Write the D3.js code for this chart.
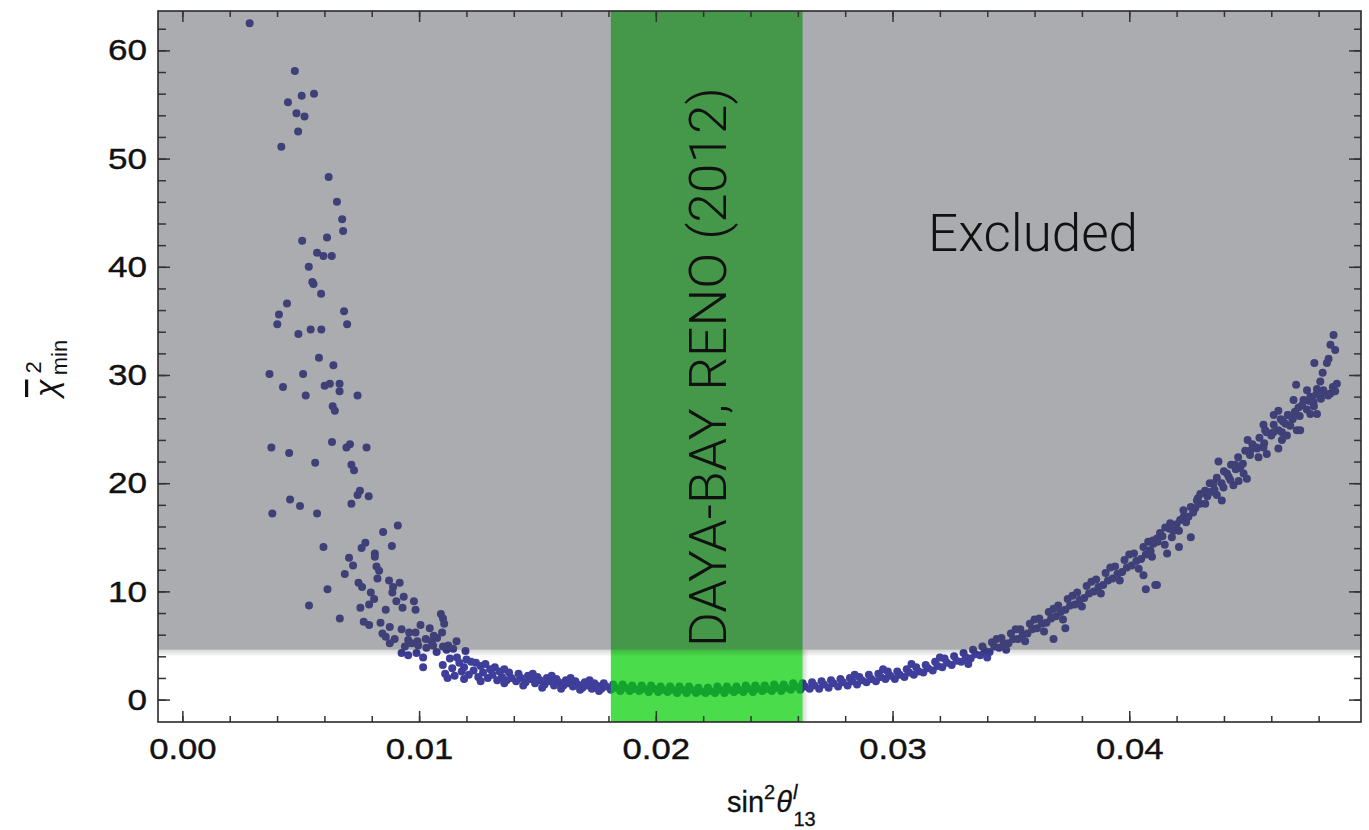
<!DOCTYPE html>
<html>
<head>
<meta charset="utf-8">
<script src="https://cdn.jsdelivr.net/npm/d3@7"></script>
<style>
	body { margin: 0; background: #fff; }
	svg { display: block; }
	text { font-family: 'Liberation Sans', Arial, sans-serif; }
</style>
</head>
<body>
<svg id="chart"></svg>
<script>
// axis ranges and tick labels
const xDomain = [-0.00103, 0.04979];
const yDomain = [-2.07, 63.64];
const xMajorTicks = [0, 0.01, 0.02, 0.03, 0.04];
const yMajorTicks = [0, 10, 20, 30, 40, 50, 60];

// shaded regions
const excludedAbove = 4.61;
const expBand = [0.0181, 0.0262];
const regionLabel = 'Excluded';
const bandLabel = 'DAYA-BAY, RENO (2012)';

// scattered points, small sin^2 (upper left)
const sparsePoints = [
	[0.00284,62.5],[0.00475,58.1],[0.00556,56.0],[0.00504,55.8],[0.00446,55.2],[0.00482,54.2],[0.00516,53.9],
	[0.00489,52.5],[0.00418,51.1],[0.00618,48.3],[0.00653,46.0],[0.00675,44.4],[0.00679,43.3],[0.00506,42.4],
	[0.00611,42.7],[0.00569,41.3],[0.00596,41.0],[0.00631,41.0],[0.00534,40.0],[0.00549,38.6],[0.00554,38.4],
	[0.00586,37.5],[0.00442,36.6],[0.00408,35.6],[0.00401,34.7],[0.00683,35.9],[0.00696,34.7],[0.00490,33.8],
	[0.00542,34.2],[0.00587,34.2],[0.00577,31.6],[0.00638,30.9],[0.00368,30.1],[0.00510,30.1],[0.00425,28.9],
	[0.00601,29.0],[0.00623,29.2],[0.00664,29.2],[0.00664,28.5],[0.00521,28.1],[0.00740,28.1],[0.00635,27.1],
	[0.00644,26.7],[0.00376,23.3],[0.00451,22.8],[0.00561,21.9],[0.00632,23.8],[0.00693,23.3],[0.00708,23.6],
	[0.00778,23.3],[0.00714,21.7],[0.00725,21.2],
	[0.00380,17.2],[0.00455,18.5],[0.00497,17.9],[0.00569,17.2],[0.00714,18.1],[0.00740,18.9],[0.00750,19.3],
	[0.00787,18.8],[0.00910,16.1],[0.00848,15.5],[0.00885,14.2],[0.00596,14.1],[0.00757,14.0],[0.00773,14.5],
	[0.00813,13.5],[0.00813,13.2],[0.00704,13.1],[0.00721,12.4],[0.00820,12.3],[0.00831,11.9],[0.00686,11.6],
	[0.00824,11.2],[0.00873,11.0],[0.00918,10.8],[0.00744,10.8],[0.00759,10.4],[0.00890,10.4],[0.00887,9.9],
	[0.00613,10.2],[0.00796,9.9],[0.00810,9.3],[0.00789,8.8],[0.00935,9.5],[0.00978,9.1],[0.00904,9.1],
	[0.00930,8.5],[0.00985,8.3],[0.00535,8.7],[0.00752,8.5],[0.00859,8.3],[0.00665,7.5],[0.01092,7.9],
	[0.01101,7.5],[0.01106,7.0],[0.00766,7.2],[0.00789,6.9],[0.00837,7.1],[0.01006,6.9],[0.01045,6.6],
	[0.00845,6.1],[0.00876,6.7],[0.00859,5.8],[0.00897,5.6],[0.00876,5.2],[0.00926,6.5],[0.00958,6.2],
	[0.00985,6.2],[0.00954,5.5],[0.00993,5.4],[0.01028,5.6],[0.01052,5.4],[0.01062,5.9],[0.01097,6.2],
	[0.01076,5.7],[0.00940,4.9],[0.00968,5.2],[0.00996,5.0],[0.01031,4.8],[0.01059,5.0],[0.01101,4.9],
	[0.01123,5.0],[0.01158,5.4],[0.01196,4.5],[0.00926,4.3],[0.00954,4.1],[0.00989,4.3],[0.01017,3.9],
	[0.01074,4.4],[0.01116,4.6],[0.01144,4.7],[0.01017,3.0]
];

// dense band along the minimum
const bandPoints = [
	[0.0110,3.2],[0.0111,2.4],[0.0113,3.8],[0.0114,2.9],[0.0115,2.2],[0.0116,3.9],[0.0117,3.4],[0.0118,2.6],
	[0.0119,3.0],[0.0120,3.7],[0.0121,2.3],[0.0122,3.5],[0.0123,2.7],[0.0124,3.4],[0.0125,2.1],[0.0126,3.1],
	[0.0127,2.5],[0.0128,3.3],[0.0129,2.0],[0.0130,2.8],[0.0131,2.3],[0.0132,3.0],[0.0133,1.8],[0.0134,2.6],
	[0.0135,2.1],[0.0137,1.8],[0.0138,2.5],[0.0139,2.0],
	[0.0141,1.7],[0.0142,2.4],[0.0143,2.0],[0.0145,1.6],[0.0146,2.2],[0.0147,1.9],[0.0149,1.5],[0.0150,2.1],
	[0.0151,1.8],[0.0153,1.4],[0.0154,2.0],[0.0155,1.7],[0.0157,1.3],[0.0158,1.9],[0.0159,1.6],[0.0161,1.3],
	[0.0162,1.8],[0.0163,1.5],[0.0165,1.2],[0.0166,1.7],[0.0167,1.4],[0.0169,1.1],[0.0170,1.6],[0.0171,1.3],
	[0.0173,1.0],[0.0174,1.5],[0.0175,1.3],[0.0177,1.0],[0.0178,1.5],[0.0179,1.2],
	[0.0181,0.9],[0.0182,1.4],[0.0183,1.1],[0.0185,0.8],[0.0186,1.4],[0.0187,1.1],[0.0189,0.8],[0.0190,1.3],
	[0.0191,1.0],[0.0193,0.8],[0.0194,1.3],[0.0195,1.0],[0.0197,0.7],[0.0198,1.3],[0.0199,1.0],[0.0201,0.7],
	[0.0202,1.2],[0.0203,0.9],[0.0205,0.7],[0.0206,1.2],[0.0207,0.9],[0.0209,0.6],[0.0210,1.2],[0.0211,0.9],
	[0.0213,0.6],[0.0214,1.2],[0.0215,0.9],[0.0217,0.6],[0.0218,1.1],[0.0219,0.8],[0.0221,0.6],[0.0222,1.1],
	[0.0223,0.8],[0.0225,0.6],[0.0226,1.2],[0.0227,0.9],[0.0229,0.6],[0.0230,1.2],[0.0231,0.9],[0.0233,0.7],
	[0.0234,1.2],[0.0235,0.9],[0.0237,0.7],[0.0238,1.3],[0.0239,1.0],[0.0241,0.7],[0.0242,1.3],[0.0243,1.0],
	[0.0245,0.8],[0.0246,1.3],[0.0247,1.0],[0.0249,0.8],[0.0250,1.4],[0.0251,1.1],[0.0253,0.8],[0.0254,1.4],
	[0.0255,1.1],[0.0257,0.9],[0.0258,1.5],[0.0259,1.2],
	[0.0261,0.9],[0.0262,1.5],[0.0263,1.2],[0.0265,1.0],[0.0266,1.6],[0.0267,1.3],[0.0269,1.0],[0.0270,1.7],
	[0.0271,1.4],[0.0273,1.1],[0.0274,1.8],[0.0275,1.5],[0.0277,1.2],[0.0278,1.9],[0.0279,1.6],[0.0281,1.3],
	[0.0282,2.0],[0.0283,1.7],[0.0285,1.4],[0.0286,2.1],[0.0287,1.8],[0.0289,1.6],[0.0290,2.3],[0.0291,1.9],
	[0.0293,1.7],[0.0294,2.4],[0.0295,2.1],[0.0297,1.9],[0.0298,2.6],[0.0299,2.2],
	[0.0301,1.9],[0.0302,2.6],[0.0303,2.3],[0.0305,2.1],[0.0306,2.8],[0.0307,2.5],[0.0309,2.3],[0.0310,3.0],
	[0.0311,2.6],[0.0313,2.5],[0.0314,3.2],[0.0315,2.9],[0.0317,2.7],[0.0318,3.5],[0.0319,3.1],[0.0321,3.0],
	[0.0322,3.8],[0.0323,3.4],[0.0325,3.2],[0.0326,4.0],[0.0327,3.6],[0.0329,3.5],[0.0330,4.3],[0.0331,3.9],
	[0.0333,3.8],[0.0334,4.6],[0.0335,4.2],[0.0337,4.1],[0.0338,4.9],[0.0339,4.5],
	[0.0341,4.4],[0.0342,5.3],[0.0343,4.9],[0.0345,4.8],[0.0346,5.7],[0.0347,5.2],[0.0349,5.2],[0.0350,6.1],
	[0.0351,5.6],[0.0353,5.6],[0.0354,6.5],[0.0355,6.0],[0.0357,6.1],[0.0358,7.0],[0.0359,6.5],[0.0361,6.6],
	[0.0362,7.5],[0.0363,7.0],[0.0365,7.1],[0.0366,8.1],[0.0367,7.5],[0.0369,7.7],[0.0370,8.7],[0.0371,8.1],
	[0.0373,8.3],[0.0374,9.3],[0.0375,8.7],[0.0377,8.8],[0.0378,9.9],[0.0379,9.2],
	[0.0381,9.4],[0.0382,10.5],[0.0383,9.8],[0.0385,10.0],[0.0386,11.1],[0.0387,10.4],[0.0389,10.6],[0.0390,11.7],
	[0.0391,11.0],[0.0393,11.2],[0.0394,12.3],[0.0395,11.6],[0.0397,11.8],[0.0398,12.9],[0.0399,12.2],[0.0401,12.4],
	[0.0402,13.5],[0.0403,12.8],[0.0405,13.0],[0.0406,14.1],[0.0407,13.4],[0.0409,13.7],[0.0410,14.7]
];

// extra points on the upper and lower edges of the band
const bandEdgePoints = [
	[0.0112,2.0],[0.0119,1.9],[0.0126,1.7],[0.0136,1.5],[0.0144,1.3],[0.0152,1.1],[0.0160,1.0],[0.0168,0.9],
	[0.0176,0.8],[0.0136,2.8],[0.0148,2.4],[0.0156,2.2],[0.0164,2.0],[0.0172,1.8],[0.0284,2.3],[0.0296,2.8],
	[0.0308,3.3],[0.0320,3.9],[0.0332,3.3],[0.0340,3.9],[0.0348,4.6],[0.0356,5.4],[0.0364,6.3],[0.0372,7.4],
	[0.0380,8.6],[0.0388,9.8],[0.0396,11.0],[0.0404,12.1],[0.0344,5.6],[0.0352,6.5],[0.0360,7.4],[0.0368,8.4],
	[0.0376,9.6],[0.0384,10.9],[0.0392,12.2],[0.0400,13.4],[0.0408,14.6]
];

// rising arm, large sin^2 (right)
const risePoints = [
	[0.0368,5.6],[0.0373,6.6],[0.0406,11.5],[0.0407,10.2],[0.0411,10.6],[0.0416,13.5],[0.0421,14.1],[0.0426,15.0],
	[0.0412,14.6],[0.0414,15.1],[0.0415,14.3],[0.0417,15.8],[0.0418,15.0],[0.0420,16.2],[0.0421,15.6],[0.0423,16.9],
	[0.0424,16.4],[0.0426,17.8],[0.0427,17.3],[0.0429,18.6],[0.0430,18.1],[0.0432,19.3],[0.0433,18.8],[0.0434,20.0],
	[0.0436,19.4],[0.0437,20.5],[0.0439,20.0],[0.0440,21.1],[0.0442,20.6],[0.0443,21.7],[0.0445,21.3],[0.0446,22.4],
	[0.0448,21.8],[0.0449,23.0],[0.0451,22.6],[0.0452,23.6],[0.0454,23.2],[0.0455,24.2],[0.0457,23.7],[0.0458,24.7],
	[0.0460,24.4],[0.0461,25.4],[0.0463,24.9],[0.0464,25.9],[0.0466,25.5],[0.0467,26.3],[0.0469,25.9],[0.0470,26.6],
	[0.0472,26.2],[0.0473,27.2],[0.0475,26.8],[0.0476,27.6],[0.0478,27.1],[0.0479,28.2],[0.0481,27.8],[0.0482,28.6],
	[0.0484,28.1],[0.0486,28.9],[0.0487,28.5],
	[0.04863,33.7],[0.0485,32.8],[0.0487,32.3],[0.04842,31.5],[0.04835,31.1],[0.04782,31.1],[0.04817,30.2],
	[0.04877,29.2],[0.04705,29.1],[0.04807,29.4],[0.04793,28.7],[0.04821,28.4],[0.0485,28.3],[0.04751,28.6],
	[0.04765,28.0],[0.04736,27.7],[0.04779,27.5],[0.04715,27.0],[0.04694,27.7],[0.04765,26.4],[0.04793,26.4],
	[0.0463,26.7],[0.0461,26.3],[0.0467,26.3],[0.0469,26.0],[0.0465,25.7],[0.0468,25.3],[0.04567,25.4],
	[0.04574,24.9],[0.04609,24.7],[0.04645,24.7],[0.04708,24.9],[0.04722,24.9],[0.04666,24.4],[0.04645,24.0],
	[0.0463,23.2],[0.0450,24.0],[0.04511,23.0],[0.04539,23.3],[0.04567,23.3],[0.04581,22.7],[0.04546,22.4],
	[0.04377,22.0],[0.04448,21.7],[0.04469,21.4],[0.04497,20.4],[0.04483,20.9],[0.04462,20.2],[0.0444,19.8],
	[0.04413,20.9],[0.04427,20.3],[0.04398,19.6],[0.04391,18.4],[0.04356,20.0],[0.04349,19.2],[0.0437,18.9],
	[0.04328,19.2],[0.0430,19.0],[0.04286,18.4],[0.04321,18.1],[0.04279,17.7],[0.04229,17.5],[0.0425,16.9],
	[0.04215,16.6],[0.04173,16.3],[0.04152,15.9],[0.04187,15.6],[0.0413,15.4],[0.04117,14.9],[0.04102,14.4],
	[0.04088,13.8],[0.04096,13.2],[0.04117,10.6]
];

const width = 1369, height = 830;
const margin = { top: 11, right: 8, bottom: 108, left: 158 };

const svg = d3.select('#chart').attr('width', width).attr('height', height);

const x = d3.scaleLinear().domain(xDomain).range([margin.left, width - margin.right]);
const y = d3.scaleLinear().domain(yDomain).range([height - margin.bottom, margin.top]);

const defs = svg.append('defs');
defs.append('clipPath').attr('id', 'plot-clip')
	.append('rect')
	.attr('x', x(xDomain[0])).attr('y', y(yDomain[1]))
	.attr('width', x(xDomain[1]) - x(xDomain[0]))
	.attr('height', y(yDomain[0]) - y(yDomain[1]));

function fade(id, x2, y2) {
	const g = defs.append('linearGradient').attr('id', id)
		.attr('x1', 0).attr('y1', 0).attr('x2', x2).attr('y2', y2);
	g.append('stop').attr('offset', 0).attr('stop-color', '#000').attr('stop-opacity', 0.16);
	g.append('stop').attr('offset', 1).attr('stop-color', '#000').attr('stop-opacity', 0);
}
fade('fade-down', 0, 1);
fade('fade-right', 1, 0);

const plot = svg.append('g').attr('clip-path', 'url(#plot-clip)');

// points
const allPoints = sparsePoints.concat(bandPoints, bandEdgePoints, risePoints);
plot.append('g')
	.selectAll('circle')
	.data(allPoints)
	.join('circle')
	.attr('cx', d => x(d[0]))
	.attr('cy', d => y(d[1]))
	.attr('r', 4)
	.attr('fill', '#3f3f9b');

// experimental band (on top of the points) and its soft shadow
plot.append('rect')
	.attr('x', x(expBand[1]))
	.attr('y', y(excludedAbove))
	.attr('width', 6)
	.attr('height', y(yDomain[0]) - y(excludedAbove))
	.attr('fill', 'url(#fade-right)');
plot.append('rect')
	.attr('x', x(expBand[0]))
	.attr('y', y(yDomain[1]))
	.attr('width', x(expBand[1]) - x(expBand[0]))
	.attr('height', y(yDomain[0]) - y(yDomain[1]))
	.attr('fill', 'rgb(0,205,0)')
	.attr('fill-opacity', 0.71);

// excluded region (semi transparent gray over everything) and its soft shadow
plot.append('rect')
	.attr('x', x(xDomain[0]))
	.attr('y', y(excludedAbove))
	.attr('width', x(xDomain[1]) - x(xDomain[0]))
	.attr('height', 7)
	.attr('fill', 'url(#fade-down)');
plot.append('rect')
	.attr('x', x(xDomain[0]))
	.attr('y', y(yDomain[1]))
	.attr('width', x(xDomain[1]) - x(xDomain[0]))
	.attr('height', y(excludedAbove) - y(yDomain[1]))
	.attr('fill', 'rgb(64,65,73)')
	.attr('fill-opacity', 0.44);

// frame ticks
const xMinor = d3.range(0, xDomain[1], 0.002);
const yMinor = d3.range(0, yDomain[1], 2);
const tickLen = s => s.replace(/[^0-9]/g, '').length * 19.5 + (s.includes('.') ? 9 : 0);

function styleAxis(g) {
	g.select('.domain').remove();
	g.selectAll('.tick line').attr('stroke', '#333').attr('stroke-width', 1.5);
}
function styleLabels(g) {
	g.selectAll('.tick text')
		.attr('font-size', 30)
		.attr('fill', '#111')
		.attr('stroke', '#111')
		.attr('stroke-width', 0.4)
		.attr('textLength', function() { return tickLen(this.textContent); })
		.attr('lengthAdjust', 'spacingAndGlyphs');
}

svg.append('g')
	.attr('transform', `translate(0,${y(yDomain[0])})`)
	.call(d3.axisBottom(x).tickValues(xMinor).tickSize(-6).tickFormat(''))
	.call(styleAxis);
svg.append('g')
	.attr('transform', `translate(0,${y(yDomain[0])})`)
	.call(d3.axisBottom(x).tickValues(xMajorTicks).tickSize(-11).tickPadding(16).tickFormat(d3.format('.2f')))
	.call(styleAxis)
	.call(styleLabels);

svg.append('g')
	.attr('transform', `translate(0,${y(yDomain[1])})`)
	.call(d3.axisTop(x).tickValues(xMinor).tickSize(-6).tickFormat(''))
	.call(styleAxis);
svg.append('g')
	.attr('transform', `translate(0,${y(yDomain[1])})`)
	.call(d3.axisTop(x).tickValues(xMajorTicks).tickSize(-11).tickFormat(''))
	.call(styleAxis);

svg.append('g')
	.attr('transform', `translate(${x(xDomain[0])},0)`)
	.call(d3.axisLeft(y).tickValues(yMinor).tickSize(-8).tickFormat(''))
	.call(styleAxis);
svg.append('g')
	.attr('transform', `translate(${x(xDomain[0])},0)`)
	.call(d3.axisLeft(y).tickValues(yMajorTicks).tickSize(-12).tickPadding(11).tickFormat(d3.format('d')))
	.call(styleAxis)
	.call(styleLabels);

svg.append('g')
	.attr('transform', `translate(${x(xDomain[1])},0)`)
	.call(d3.axisRight(y).tickValues(yMinor).tickSize(-7).tickFormat(''))
	.call(styleAxis);
svg.append('g')
	.attr('transform', `translate(${x(xDomain[1])},0)`)
	.call(d3.axisRight(y).tickValues(yMajorTicks).tickSize(-12).tickFormat(''))
	.call(styleAxis);

// frame
svg.append('rect')
	.attr('x', x(xDomain[0]))
	.attr('y', y(yDomain[1]))
	.attr('width', x(xDomain[1]) - x(xDomain[0]))
	.attr('height', y(yDomain[0]) - y(yDomain[1]))
	.attr('fill', 'none')
	.attr('stroke', '#2a2a2a')
	.attr('stroke-width', 1.6);

// annotations
svg.append('text')
	.attr('x', x(0.0315))
	.attr('y', y(41.5))
	.attr('font-size', 51)
	.attr('font-weight', 300)
	.attr('fill', '#111')
	.attr('textLength', 210)
	.attr('lengthAdjust', 'spacingAndGlyphs')
	.style('font-family', 'Roboto, "Liberation Sans", sans-serif')
	.text(regionLabel);

svg.append('text')
	.attr('transform', `translate(${x(0.02298)},${y(4.85)}) rotate(-90)`)
	.attr('font-size', 51)
	.attr('font-weight', 300)
	.attr('fill', '#111')
	.attr('textLength', 560)
	.attr('lengthAdjust', 'spacingAndGlyphs')
	.style('font-family', 'Roboto, "Liberation Sans", sans-serif')
	.text(bandLabel);

// axis titles
const xTitle = svg.append('text')
	.attr('x', 727)
	.attr('y', 812)
	.attr('font-size', 29)
	.attr('fill', '#111')
	.attr('stroke', '#111')
	.attr('stroke-width', 0.3);
xTitle.append('tspan').text('sin');
xTitle.append('tspan').attr('font-size', 20).attr('dy', -13).text('2');
xTitle.append('tspan').attr('font-style', 'italic').attr('dy', 13).attr('dx', 1).text('θ');
xTitle.append('tspan').attr('font-style', 'italic').attr('font-size', 20).attr('dy', -13).attr('dx', 1).text('l');
xTitle.append('tspan').attr('font-size', 20).attr('dy', 27).attr('dx', -4).text('13');

const yTitle = svg.append('text')
	.attr('transform', 'translate(57,397) rotate(-90)')
	.attr('font-size', 32)
	.attr('fill', '#111');
yTitle.append('tspan').attr('font-style', 'italic').style('text-decoration', 'overline').text('χ');
yTitle.append('tspan').attr('font-size', 22).attr('dy', -16).attr('dx', 6).text('2');
yTitle.append('tspan').attr('font-size', 22).attr('dy', 26).attr('dx', -14).text('min');
</script>
</body>
</html>
